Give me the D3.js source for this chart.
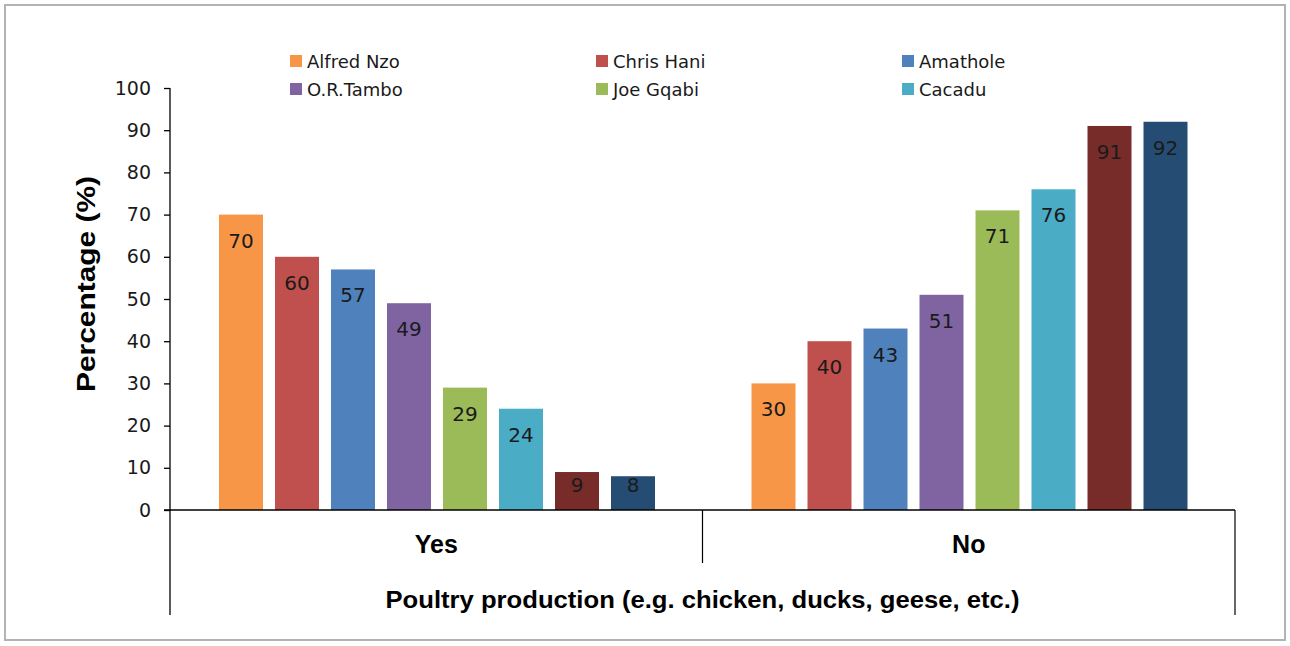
<!DOCTYPE html>
<html><head><meta charset="utf-8">
<script src="https://cdn.jsdelivr.net/npm/d3@7"></script>
<style>body{margin:0;background:#fff}svg{display:block}</style>
</head><body>
<svg id="c" width="1290" height="646"></svg>
<script>
const categories = ["Yes", "No"];
const seriesNames = ["Alfred Nzo", "Chris Hani", "Amathole", "O.R.Tambo", "Joe Gqabi", "Cacadu", "Nelson Mandela Bay", "Buffalo City"];
const yesValues = [70, 60, 57, 49, 29, 24, 9, 8];
const noValues = [30, 40, 43, 51, 71, 76, 91, 92];
const colors = ["#F79646", "#C0504D", "#4F81BD", "#8064A2", "#9BBB59", "#4BACC6", "#772C2A", "#254D74"];
const legendCount = 6;
const yTicks = [0, 10, 20, 30, 40, 50, 60, 70, 80, 90, 100];
const xTitle = "Poultry production (e.g. chicken, ducks, geese, etc.)";
const yTitle = "Percentage (%)";

const values = [yesValues, noValues];
const svg = d3.select("#c");
const font = "'DejaVu Sans', Verdana, sans-serif";
const tfont = "'Liberation Sans', Arial, sans-serif";

svg.append("rect").attr("x", 5).attr("y", 5).attr("width", 1280).attr("height", 635)
  .attr("fill", "#fff").attr("stroke", "#b3b3b3").attr("stroke-width", 2);

const x0 = 170, x1 = 1235, yTop = 88, yBot = 510;
const y = d3.scaleLinear().domain([0, 100]).range([yBot, yTop]);
const xGroup = d3.scaleBand().domain(categories).range([x0, x1]).paddingInner(0).paddingOuter(0);
const xBar = d3.scaleBand().domain(d3.range(seriesNames.length)).range([43, 491])
  .paddingInner(12/56).paddingOuter(6/56);

// bars
const groups = svg.append("g").selectAll("g").data(categories).join("g")
  .attr("transform", d => `translate(${xGroup(d)},0)`);
groups.each(function(cat, gi) {
  const g = d3.select(this);
  const data = values[gi].map((v, i) => ({v, i}));
  g.selectAll("rect").data(data).join("rect")
    .attr("x", d => xBar(d.i)).attr("width", xBar.bandwidth())
    .attr("y", d => y(d.v)).attr("height", d => y(0) - y(d.v))
    .attr("fill", d => colors[d.i]);
  g.selectAll("text").data(data).join("text")
    .attr("x", d => xBar(d.i) + xBar.bandwidth()/2)
    .attr("y", d => Math.min(y(d.v) + 33, yBot - 18))
    .attr("text-anchor", "middle")
    .attr("font-family", font).attr("font-size", 20).attr("fill", "#1a1a1a")
    .text(d => d.v);
});

// y axis
const yAxis = svg.append("g").attr("transform", `translate(${x0},0)`)
  .call(d3.axisLeft(y).tickValues(yTicks).tickSize(6).tickPadding(13));
yAxis.select(".domain").remove();
yAxis.selectAll(".tick line").attr("stroke", "#000").attr("stroke-width", 1.3);
yAxis.selectAll(".tick text").attr("font-family", font).attr("font-size", 19).attr("fill", "#1a1a1a");
svg.append("line").attr("x1", x0).attr("x2", x0).attr("y1", yTop).attr("y2", 615)
  .attr("stroke", "#000").attr("stroke-width", 1.3);

// x axis
svg.append("line").attr("x1", x0 - 6).attr("x2", x1).attr("y1", yBot).attr("y2", yBot)
  .attr("stroke", "#000").attr("stroke-width", 1.5);
svg.append("line").attr("x1", xGroup("No")).attr("x2", xGroup("No")).attr("y1", yBot).attr("y2", 563)
  .attr("stroke", "#000").attr("stroke-width", 1.2);
svg.append("line").attr("x1", x1).attr("x2", x1).attr("y1", yBot).attr("y2", 615)
  .attr("stroke", "#000").attr("stroke-width", 1.2);
svg.append("g").selectAll("text").data(categories).join("text")
  .attr("x", d => xGroup(d) + xGroup.bandwidth()/2).attr("y", 553)
  .attr("text-anchor", "middle").attr("font-family", tfont).attr("font-size", 25)
  .attr("font-weight", "bold").attr("fill", "#000").text(d => d);
svg.append("text").attr("x", (x0 + x1)/2).attr("y", 608).attr("text-anchor", "middle")
  .attr("font-family", tfont).attr("font-size", 24).attr("font-weight", "bold").attr("fill", "#000")
  .attr("textLength", 634).attr("lengthAdjust", "spacingAndGlyphs")
  .text(xTitle);
svg.append("text").attr("transform", `translate(95,284) rotate(-90)`)
  .attr("text-anchor", "middle").attr("font-family", tfont).attr("font-size", 25)
  .attr("font-weight", "bold").attr("fill", "#000")
  .attr("textLength", 216).attr("lengthAdjust", "spacingAndGlyphs").text(yTitle);

// legend
const legX = [290, 596, 902], legY = [61, 89];
const leg = svg.append("g").selectAll("g").data(seriesNames.slice(0, legendCount)).join("g")
  .attr("transform", (d, i) => `translate(${legX[i % 3]},${legY[Math.floor(i / 3)]})`);
leg.append("rect").attr("x", 0).attr("y", -6).attr("width", 12).attr("height", 12)
  .attr("fill", (d, i) => colors[i]);
leg.append("text").attr("x", 17).attr("y", 6.5).attr("font-family", font).attr("font-size", 18)
  .attr("fill", "#1a1a1a").text(d => d);
</script>
</body></html>
